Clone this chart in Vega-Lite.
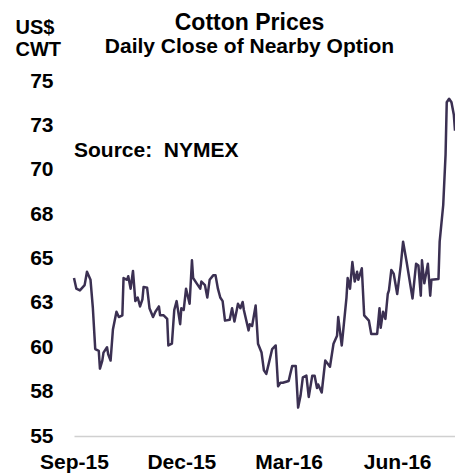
{
  "$schema": "https://vega.github.io/schema/vega-lite/v6.json",
  "width": 381,
  "height": 355,
  "autosize": {"type": "none"},
  "padding": {"left": 74, "top": 81, "right": 0, "bottom": 39},
  "background": "white",
  "title": {
    "text": "Cotton Prices",
    "subtitle": "Daily Close of Nearby Option",
    "anchor": "middle",
    "frame": "group",
    "dx": -15,
    "offset": -40,
    "font": "Liberation Sans",
    "fontSize": 23,
    "fontWeight": "bold",
    "color": "#000000",
    "subtitleFont": "Liberation Sans",
    "subtitleFontSize": 21,
    "subtitleFontWeight": "bold",
    "subtitleColor": "#000000",
    "subtitlePadding": 1
  },
  "config": {
    "view": {"stroke": null},
    "font": "Liberation Sans"
  },
  "datasets": {
    "prices": [
      {"date": "2015-09-01", "price": 63.9},
      {"date": "2015-09-03", "price": 63.3},
      {"date": "2015-09-06", "price": 63.2},
      {"date": "2015-09-10", "price": 63.5},
      {"date": "2015-09-12", "price": 64.25},
      {"date": "2015-09-15", "price": 63.8},
      {"date": "2015-09-17", "price": 62.2},
      {"date": "2015-09-19", "price": 59.9},
      {"date": "2015-09-22", "price": 59.8},
      {"date": "2015-09-23", "price": 58.8},
      {"date": "2015-09-25", "price": 59.25},
      {"date": "2015-09-26", "price": 59.7},
      {"date": "2015-09-29", "price": 60.0},
      {"date": "2015-09-30", "price": 59.6},
      {"date": "2015-10-02", "price": 59.25},
      {"date": "2015-10-04", "price": 61.0},
      {"date": "2015-10-07", "price": 62.0},
      {"date": "2015-10-09", "price": 61.7},
      {"date": "2015-10-12", "price": 61.8},
      {"date": "2015-10-13", "price": 63.9},
      {"date": "2015-10-16", "price": 63.8},
      {"date": "2015-10-17", "price": 64.0},
      {"date": "2015-10-19", "price": 63.3},
      {"date": "2015-10-21", "price": 64.3},
      {"date": "2015-10-23", "price": 62.6},
      {"date": "2015-10-25", "price": 62.8},
      {"date": "2015-10-27", "price": 62.3},
      {"date": "2015-10-29", "price": 62.7},
      {"date": "2015-10-30", "price": 63.4},
      {"date": "2015-11-02", "price": 63.35},
      {"date": "2015-11-04", "price": 62.2},
      {"date": "2015-11-07", "price": 61.7},
      {"date": "2015-11-09", "price": 62.0},
      {"date": "2015-11-12", "price": 62.3},
      {"date": "2015-11-13", "price": 61.8},
      {"date": "2015-11-16", "price": 61.8},
      {"date": "2015-11-19", "price": 61.6},
      {"date": "2015-11-20", "price": 60.1},
      {"date": "2015-11-23", "price": 60.2},
      {"date": "2015-11-25", "price": 62.1},
      {"date": "2015-11-27", "price": 62.6},
      {"date": "2015-11-30", "price": 61.3},
      {"date": "2015-12-01", "price": 62.2},
      {"date": "2015-12-03", "price": 62.1},
      {"date": "2015-12-05", "price": 63.3},
      {"date": "2015-12-08", "price": 62.45},
      {"date": "2015-12-10", "price": 64.9},
      {"date": "2015-12-11", "price": 63.9},
      {"date": "2015-12-14", "price": 63.6},
      {"date": "2015-12-17", "price": 63.3},
      {"date": "2015-12-18", "price": 63.7},
      {"date": "2015-12-21", "price": 63.5},
      {"date": "2015-12-23", "price": 62.8},
      {"date": "2015-12-25", "price": 63.8},
      {"date": "2015-12-28", "price": 64.05},
      {"date": "2015-12-30", "price": 64.05},
      {"date": "2016-01-01", "price": 63.3},
      {"date": "2016-01-03", "price": 62.8},
      {"date": "2016-01-05", "price": 62.6},
      {"date": "2016-01-07", "price": 61.5},
      {"date": "2016-01-11", "price": 61.55},
      {"date": "2016-01-13", "price": 62.2},
      {"date": "2016-01-15", "price": 61.45},
      {"date": "2016-01-17", "price": 62.1},
      {"date": "2016-01-18", "price": 62.45},
      {"date": "2016-01-20", "price": 62.2},
      {"date": "2016-01-22", "price": 62.55},
      {"date": "2016-01-23", "price": 62.1},
      {"date": "2016-01-27", "price": 60.95},
      {"date": "2016-01-28", "price": 61.3},
      {"date": "2016-01-30", "price": 61.2},
      {"date": "2016-02-02", "price": 62.35},
      {"date": "2016-02-04", "price": 60.2},
      {"date": "2016-02-07", "price": 59.7},
      {"date": "2016-02-09", "price": 58.7},
      {"date": "2016-02-11", "price": 58.5},
      {"date": "2016-02-13", "price": 59.05},
      {"date": "2016-02-16", "price": 59.9},
      {"date": "2016-02-19", "price": 60.1},
      {"date": "2016-02-21", "price": 57.8},
      {"date": "2016-02-23", "price": 58.0},
      {"date": "2016-02-25", "price": 58.0},
      {"date": "2016-03-01", "price": 58.1},
      {"date": "2016-03-02", "price": 58.4},
      {"date": "2016-03-04", "price": 58.95},
      {"date": "2016-03-07", "price": 58.95},
      {"date": "2016-03-09", "price": 56.6},
      {"date": "2016-03-11", "price": 57.25},
      {"date": "2016-03-13", "price": 58.3},
      {"date": "2016-03-16", "price": 58.4},
      {"date": "2016-03-18", "price": 57.2},
      {"date": "2016-03-21", "price": 58.4},
      {"date": "2016-03-23", "price": 58.4},
      {"date": "2016-03-25", "price": 57.7},
      {"date": "2016-03-26", "price": 57.9},
      {"date": "2016-03-29", "price": 57.45},
      {"date": "2016-04-01", "price": 59.25},
      {"date": "2016-04-05", "price": 58.9},
      {"date": "2016-04-08", "price": 60.2},
      {"date": "2016-04-11", "price": 60.65},
      {"date": "2016-04-12", "price": 61.7},
      {"date": "2016-04-15", "price": 60.1},
      {"date": "2016-04-19", "price": 62.8},
      {"date": "2016-04-20", "price": 63.9},
      {"date": "2016-04-22", "price": 63.3},
      {"date": "2016-04-24", "price": 64.8},
      {"date": "2016-04-26", "price": 63.7},
      {"date": "2016-04-28", "price": 64.25},
      {"date": "2016-04-29", "price": 63.8},
      {"date": "2016-05-02", "price": 64.45},
      {"date": "2016-05-04", "price": 61.8},
      {"date": "2016-05-08", "price": 61.5},
      {"date": "2016-05-10", "price": 60.75},
      {"date": "2016-05-15", "price": 60.75},
      {"date": "2016-05-17", "price": 62.2},
      {"date": "2016-05-18", "price": 61.1},
      {"date": "2016-05-20", "price": 62.0},
      {"date": "2016-05-22", "price": 61.6},
      {"date": "2016-05-24", "price": 63.0},
      {"date": "2016-05-25", "price": 63.2},
      {"date": "2016-05-27", "price": 64.35},
      {"date": "2016-05-29", "price": 64.15},
      {"date": "2016-06-01", "price": 63.0},
      {"date": "2016-06-04", "price": 64.6},
      {"date": "2016-06-06", "price": 65.95},
      {"date": "2016-06-09", "price": 64.8},
      {"date": "2016-06-14", "price": 62.75},
      {"date": "2016-06-17", "price": 64.7},
      {"date": "2016-06-19", "price": 64.6},
      {"date": "2016-06-21", "price": 62.9},
      {"date": "2016-06-22", "price": 64.9},
      {"date": "2016-06-24", "price": 63.6},
      {"date": "2016-06-27", "price": 64.7},
      {"date": "2016-06-29", "price": 62.9},
      {"date": "2016-06-30", "price": 63.8},
      {"date": "2016-07-06", "price": 63.85},
      {"date": "2016-07-07", "price": 65.95},
      {"date": "2016-07-10", "price": 68.0},
      {"date": "2016-07-12", "price": 70.85},
      {"date": "2016-07-13", "price": 73.8},
      {"date": "2016-07-15", "price": 74.0},
      {"date": "2016-07-17", "price": 73.8},
      {"date": "2016-07-19", "price": 73.1},
      {"date": "2016-07-20", "price": 72.2}
    ],
    "note": [
      {"date": "2015-09-01", "price": 70.72, "label": "Source: \u00a0NYMEX"}
    ]
  },
  "layer": [
    {
      "data": {"name": "prices"},
      "mark": {"type": "line", "color": "#3b3052", "strokeWidth": 2.5, "strokeJoin": "round"},
      "encoding": {
        "x": {
          "field": "date",
          "type": "temporal",
          "scale": {
            "type": "utc",
            "domain": [
              {"year": 2015, "month": 9, "date": 1, "utc": true},
              {"year": 2016, "month": 7, "date": 20, "utc": true}
            ]
          },
          "axis": {
            "title": null,
            "values": [
              {"year": 2015, "month": 9, "date": 1, "utc": true},
              {"year": 2015, "month": 12, "date": 1, "utc": true},
              {"year": 2016, "month": 3, "date": 1, "utc": true},
              {"year": 2016, "month": 6, "date": 1, "utc": true}
            ],
            "format": "%b-%y",
            "grid": false,
            "ticks": false,
            "tickSize": 0,
            "domain": true,
            "domainColor": "#d0d0d0",
            "domainWidth": 1.5,
            "labelFont": "Liberation Sans",
            "labelFontSize": 21,
            "labelFontWeight": "bold",
            "labelColor": "#000000",
            "labelPadding": 15,
            "labelFlush": false,
            "labelOverlap": false
          }
        },
        "y": {
          "field": "price",
          "type": "quantitative",
          "scale": {"domain": [55, 75], "nice": false, "zero": false},
          "axis": {
            "title": ["US$", "CWT"],
            "titleAngle": 0,
            "titleAlign": "left",
            "titleBaseline": "top",
            "titleX": -59,
            "titleY": -64,
            "titleFont": "Liberation Sans",
            "titleFontSize": 20,
            "titleFontWeight": "bold",
            "titleColor": "#000000",
            "titleLineHeight": 22,
            "values": [55, 57.5, 60, 62.5, 65, 67.5, 70, 72.5, 75],
            "format": ".0f",
            "grid": false,
            "ticks": false,
            "tickSize": 0,
            "domain": false,
            "labelFont": "Liberation Sans",
            "labelFontSize": 21,
            "labelFontWeight": "bold",
            "labelColor": "#000000",
            "labelPadding": 21,
            "labelOverlap": false,
            "labelFlush": false
          }
        }
      }
    },
    {
      "data": {"name": "note"},
      "mark": {
        "type": "text",
        "align": "left",
        "baseline": "alphabetic",
        "font": "Liberation Sans",
        "fontSize": 21,
        "fontWeight": "bold",
        "color": "#000000"
      },
      "encoding": {
        "x": {"field": "date", "type": "temporal"},
        "y": {"field": "price", "type": "quantitative"},
        "text": {"field": "label"}
      }
    }
  ]
}
